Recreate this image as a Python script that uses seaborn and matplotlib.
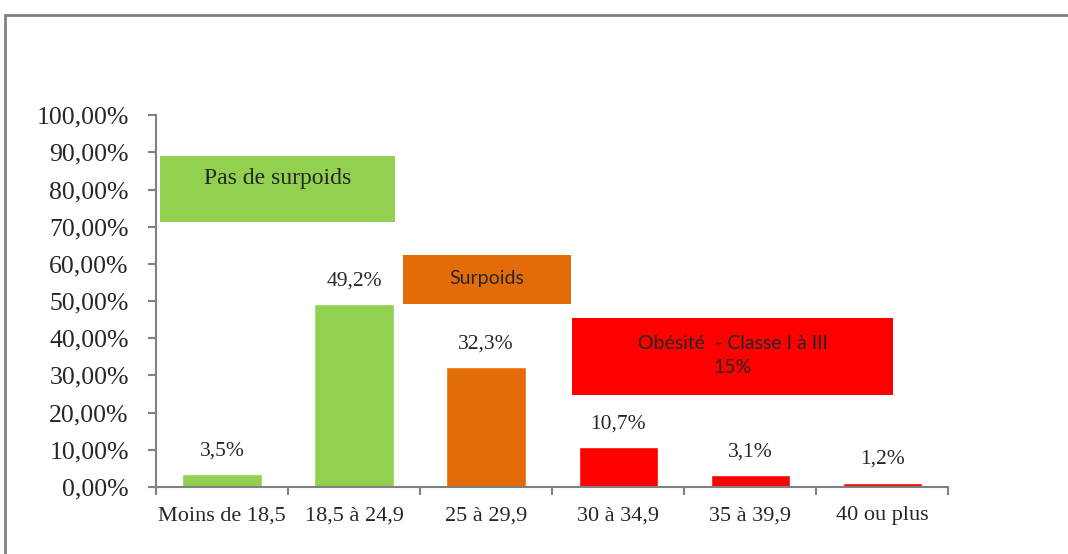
import matplotlib.pyplot as plt
import matplotlib.lines as mlines
import matplotlib.patches as mpatches
import pandas as pd
import seaborn as sns

# IMC categories and shares (%)
categories = ["Moins de 18,5", "18,5 à 24,9", "25 à 29,9", "30 à 34,9", "35 à 39,9", "40 ou plus"]
values = [3.5, 49.2, 32.3, 10.7, 3.1, 1.2]
bar_colors = ["#92D050", "#92D050", "#E36C09", "#FF0000", "#FF0000", "#FF0000"]
value_labels = ["3,5%", "49,2%", "32,3%", "10,7%", "3,1%", "1,2%"]
y_ticks = [0, 10, 20, 30, 40, 50, 60, 70, 80, 90, 100]

# group boxes: (x0, x1, y0, y1, text, color, font)
groups = [
    (-0.47, 1.31, 71.2, 89.0, "Pas de surpoids", "#92D050", "serif"),
    (1.37, 2.64, 49.2, 62.4, "Surpoids", "#E36C09", "sans"),
    (2.65, 5.08, 24.7, 45.4, "Obésité  - Classe I à III\n15%", "#FF0000", "sans"),
]

serif = ["Liberation Serif", "DejaVu Serif"]
sans = ["Lato", "DejaVu Sans"]

df = pd.DataFrame({"cat": categories, "val": values})

sns.set_style("white")
fig = plt.figure(figsize=(10.68, 5.54), dpi=100)
ax = fig.add_axes([0.146, 0.121, 0.742, 0.671])

sns.barplot(data=df, x="cat", y="val", hue="cat", palette=bar_colors,
            width=0.6, legend=False, saturation=1, ax=ax)

for i, (v, lab) in enumerate(zip(values, value_labels)):
    ax.text(i, v + 3.7, lab, ha="center", va="bottom", fontsize=15.5, family=serif)

for x0, x1, y0, y1, txt, col, fnt in groups:
    ax.add_patch(mpatches.Rectangle((x0, y0), x1 - x0, y1 - y0, facecolor=col,
                                    edgecolor="none", clip_on=False, zorder=3))
    if fnt == "serif":
        ax.text((x0 + x1) / 2, y1 - 3.2, txt, ha="center", va="top",
                fontsize=17, family=serif, zorder=4)
    else:
        ax.text((x0 + x1) / 2, (y0 + y1) / 2 + 0.3, txt, ha="center", va="center",
                fontsize=14, family=sans, zorder=4, linespacing=1.55)

ax.set_xlim(-0.5, len(categories) - 0.5)
ax.set_ylim(0, 100)
ax.set_yticks(y_ticks)
ax.set_yticklabels([f"{t},00%" for t in y_ticks], fontsize=18.5, family=serif)
ax.set_xticks([i - 0.5 for i in range(len(categories) + 1)])
ax.set_xticklabels([])
ax.set_xticks(range(len(categories)), minor=True)
ax.set_xticklabels(categories, minor=True, fontsize=16, family=serif)
ax.tick_params(axis="x", which="minor", length=0, pad=14, bottom=True)
ax.tick_params(axis="both", which="major", length=5.5, width=1.5, color="#808080",
               direction="out", bottom=True, left=True)
ax.tick_params(axis="y", pad=14)
ax.set_xlabel("")
ax.set_ylabel("")

sns.despine(ax=ax, top=True, right=True)
for s in ["left", "bottom"]:
    ax.spines[s].set_color("#808080")
    ax.spines[s].set_linewidth(1.5)

# outer frame
fig.add_artist(mlines.Line2D([0.005, 0.005], [0, 0.973], color="#808080", lw=2))
fig.add_artist(mlines.Line2D([0.005, 1], [0.973, 0.973], color="#808080", lw=2))

fig.savefig("out.png", dpi=100)
